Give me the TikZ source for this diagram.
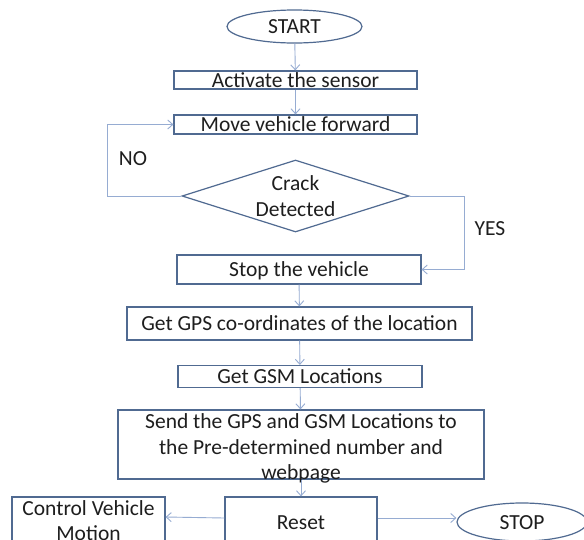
\documentclass[tikz,border=0pt]{standalone}
\usepackage{fontspec}
\setmainfont{Carlito}
\usetikzlibrary{shapes.geometric,arrows.meta}
\definecolor{boxline}{RGB}{80,106,145}
\definecolor{arrline}{RGB}{150,172,210}
\definecolor{txt}{RGB}{30,30,30}
\begin{document}
\begin{tikzpicture}[x=1pt,y=-1pt,
  txtfont/.style={text=txt, font=\fontsize{21.5}{25.5}\selectfont},
  fshape/.style={draw=boxline, line width=1.2pt, inner sep=0pt, txtfont, align=center},
  box/.style={fshape, rectangle, text height=14pt, text depth=0pt},
  mbox/.style={fshape, rectangle},
  term/.style={fshape, ellipse, text height=14pt, text depth=0pt},
  arr/.style={draw=arrline, line width=0.9pt, -{Straight Barb[length=5pt,width=9pt]}},
  lbl/.style={txtfont, inner sep=0pt, align=center}
]
\useasboundingbox (0,0) rectangle (584,539);
\clip (0,0) rectangle (584,539);
\fill[white] (0,0) rectangle (584,539);

\node[term, minimum width=135pt, minimum height=33pt] (start) at (294.5,26.5) {START};
\node[box, minimum width=243pt, minimum height=18pt] (act) at (295.5,80) {Activate the sensor};
\node[box, minimum width=243pt, minimum height=19pt] (move) at (295.5,124.5) {Move vehicle forward};
\node[mbox, diamond, aspect=3.15, minimum width=227pt, minimum height=72pt] (dec) at (295.5,196) {Crack\\[0.5pt]Detected};
\node[box, minimum width=244pt, minimum height=29pt] (stop) at (299,269.5) {Stop the vehicle};
\node[box, minimum width=345pt, minimum height=33pt] (gps) at (299.5,323.5) {Get GPS co-ordinates of the location};
\node[box, minimum width=244pt, minimum height=22pt] (gsm) at (300,376.5) {Get GSM Locations};
\node[mbox, minimum width=366pt, minimum height=69pt] (send) at (301,444.5) {};
\node[lbl] (sendtxt) at (301,448.5)
  {Send the GPS and GSM Locations to\\the Pre-determined number and\\webpage};
\node[mbox, minimum width=153pt, minimum height=48pt, font=\fontsize{21.5}{25}\selectfont] (ctrl) at (88.5,521) {Control Vehicle\\Motion};
\node[box, minimum width=152pt, minimum height=50pt] (reset) at (301,522) {Reset};
\node[term, minimum width=130pt, minimum height=38pt] (end) at (522,522) {STOP};

\node[lbl] (no) at (133,159) {NO};
\node[lbl] (yes) at (490,229) {YES};

\draw[arr] (start) -- (act);
\draw[arr] (act) -- (move);
\draw[arr] (dec.west) -- ++(-74,0) |- (move.west);
\draw[arr] (dec.east) -- ++(55,0) |- (stop.east);
\draw[arr] (stop) -- (gps);
\draw[arr] (gps) -- (gsm);
\draw[arr] (gsm) -- (send);
\draw[arr] (send) -- (reset);
\draw[arr] ([yshift=4pt]reset.west) -- ([yshift=4pt]ctrl.east);
\draw[arr] ([yshift=4pt]reset.east) -- ([yshift=4pt]end.west);
\end{tikzpicture}
\end{document}
